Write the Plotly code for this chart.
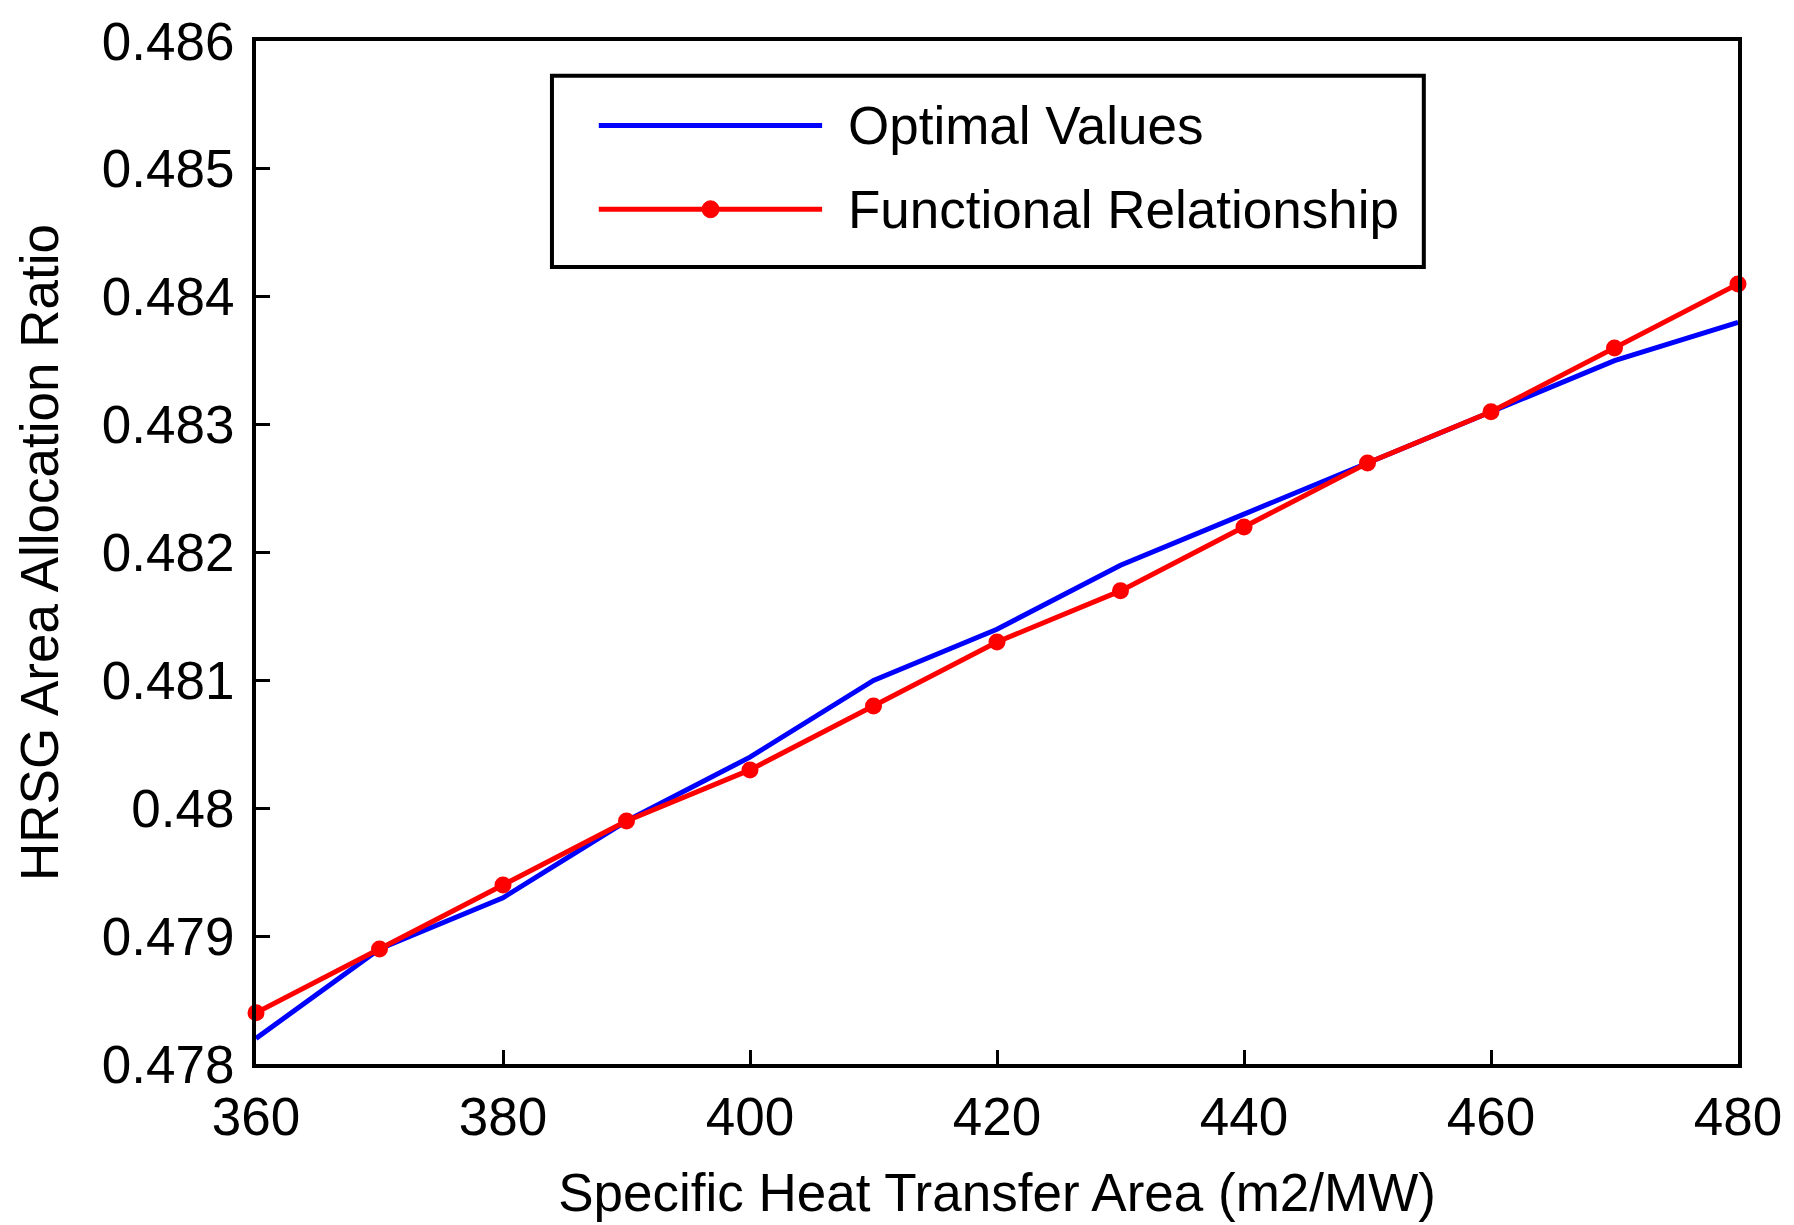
import plotly.graph_objects as go

x_vals = [360, 370, 380, 390, 400, 410, 420, 430, 440, 450, 460, 470, 480]
optimal = [0.4782, 0.4789, 0.4793, 0.4799, 0.4804, 0.4810, 0.4814, 0.4819, 0.4823, 0.4827, 0.4831, 0.4835, 0.4838]
functional = [0.4784, 0.4789, 0.4794, 0.4799, 0.4803, 0.4808, 0.4813, 0.4817, 0.4822, 0.4827, 0.4831, 0.4836, 0.4841]

y_ticks = [0.478, 0.479, 0.480, 0.481, 0.482, 0.483, 0.484, 0.485, 0.486]
y_ticktext = ["0.478", "0.479", "0.48", "0.481", "0.482", "0.483", "0.484", "0.485", "0.486"]
x_ticks = [360, 380, 400, 420, 440, 460, 480]

names = ["Optimal Values", "Functional Relationship"]
BLUE = "#0000ff"
RED = "#ff0000"
FONT = "Liberation Sans, Arial, Helvetica, sans-serif"
FS = 53

fig = go.Figure()
fig.add_trace(go.Scatter(x=x_vals, y=optimal, mode="lines", name=names[0],
                         line=dict(color=BLUE, width=5), cliponaxis=False))
fig.add_trace(go.Scatter(x=x_vals, y=functional, mode="lines+markers", name=names[1],
                         line=dict(color=RED, width=5),
                         marker=dict(color=RED, size=17), cliponaxis=False))

# custom legend (MATLAB style)
bx0, bx1, by0, by1 = 0.1997, 0.788, 0.779, 0.966
lx0, lx1, lmx, ltx = 0.2313, 0.382, 0.3067, 0.398
row_y = [0.9175, 0.8355]
shapes = [
    dict(type="rect", xref="paper", yref="paper", x0=bx0, x1=bx1, y0=by0, y1=by1,
         line=dict(color="black", width=4), fillcolor="white", layer="above"),
    dict(type="line", xref="paper", yref="paper", x0=lx0, x1=lx1, y0=row_y[0], y1=row_y[0],
         line=dict(color=BLUE, width=5), layer="above"),
    dict(type="line", xref="paper", yref="paper", x0=lx0, x1=lx1, y0=row_y[1], y1=row_y[1],
         line=dict(color=RED, width=5), layer="above"),
    dict(type="circle", xref="paper", yref="paper", xsizemode="pixel", ysizemode="pixel",
         xanchor=lmx, yanchor=row_y[1], x0=-8.5, x1=8.5, y0=-8.5, y1=8.5,
         line=dict(color=RED, width=1), fillcolor=RED, layer="above"),
]
annotations = [
    dict(xref="paper", yref="paper", x=ltx, y=row_y[i], text=names[i], showarrow=False,
         xanchor="left", yanchor="middle", font=dict(family=FONT, size=FS, color="black"))
    for i in range(2)
]

fig.update_layout(
    width=1794, height=1225,
    margin=dict(l=256, r=51, t=36, b=160),
    paper_bgcolor="white", plot_bgcolor="white",
    showlegend=False,
    font=dict(family=FONT, size=FS, color="black"),
    shapes=shapes, annotations=annotations,
)
fig.update_xaxes(
    range=[360, 480], tickvals=x_ticks, ticks="inside", ticklen=14, tickwidth=3,
    tickcolor="black", showline=True, linecolor="black", linewidth=4, mirror=True,
    showgrid=False, zeroline=False, ticklabelstandoff=3,
    tickfont=dict(family=FONT, size=FS, color="black"),
    title=dict(text="Specific Heat Transfer Area (m2/MW)", standoff=30,
               font=dict(family=FONT, size=FS, color="black")),
)
fig.update_yaxes(
    range=[0.478, 0.486], tickvals=y_ticks, ticktext=y_ticktext, ticks="inside",
    ticklen=14, tickwidth=3, tickcolor="black", showline=True, linecolor="black",
    linewidth=4, mirror=True, showgrid=False, zeroline=False, ticklabelstandoff=7,
    tickfont=dict(family=FONT, size=FS, color="black"),
    title=dict(text="HRSG Area Allocation Ratio", standoff=27,
               font=dict(family=FONT, size=FS, color="black")),
)

fig.write_html("out.html")
